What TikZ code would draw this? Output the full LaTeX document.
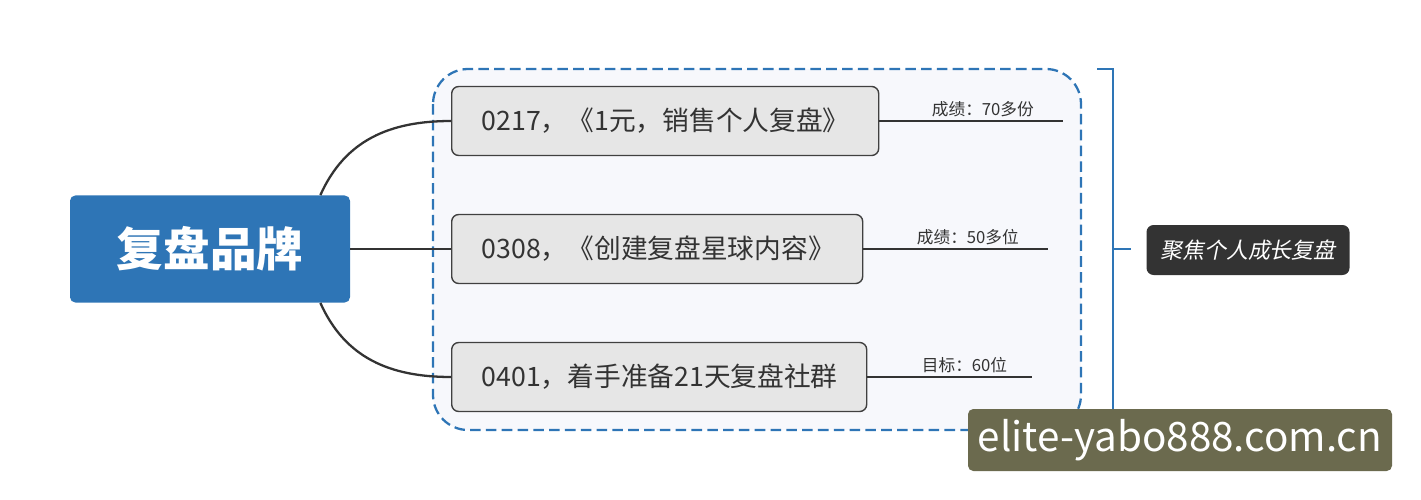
\documentclass[tikz,border=0pt]{standalone}
\usepackage{fontspec}
\setmainfont{Noto Sans CJK SC}
\newfontfamily\slantcjk[FakeSlant=0.2]{Noto Sans CJK SC}
\usetikzlibrary{positioning}
\definecolor{rootblue}{HTML}{2E75B6}
\definecolor{framefill}{HTML}{F7F8FC}
\definecolor{boxfill}{HTML}{E6E6E6}
\definecolor{markfill}{HTML}{6B6A4E}
\tikzset{
  item/.style={draw=black!75,fill=boxfill,rounded corners=4pt,line width=0.8pt,
    minimum height=69*0.02cm,anchor=west,align=left,inner xsep=30*0.02cm,
    font=\fontsize{15.2}{17}\selectfont,text=black!80},
  note/.style={anchor=south west,inner sep=2pt,font=\fontsize{9.5}{10}\selectfont,text=black!80},
  link/.style={line width=1.3pt,black!80}
}
\begin{document}
\begin{tikzpicture}[x=0.02cm,y=-0.02cm]
                \useasboundingbox (0,0) rectangle (1421,500);
                % frame
                \draw[rootblue,dash pattern=on 6pt off 3pt,line width=1.3pt,fill=framefill,rounded corners=20pt]
                    (433,69) rectangle (1081,430);

                % root
                \node[fill=rootblue,rounded corners=3pt,minimum width=280*0.02cm,minimum height=107*0.02cm,
                    text=white,font=\fontsize{26.5}{29}\bfseries\selectfont] (root) at (210,249) {复盘品牌};

                % items
                \node[item,minimum width=427*0.02cm,text width=367*0.02cm] (a) at (451,121) {0217，《1元，销售个人复盘》};
                \node[item,minimum width=411*0.02cm,text width=351*0.02cm] (b) at (451,249) {0308，《创建复盘星球内容》};
                \node[item,minimum width=415*0.02cm,text width=355*0.02cm] (c) at (451,377) {0401，着手准备21天复盘社群};

                \draw[link] ([xshift=-30*0.02cm]root.north east) .. controls (345,140) and (390,121) .. (a.west);
                \draw[link] (root.east) -- (b.west);
                \draw[link] ([xshift=-30*0.02cm]root.south east) .. controls (345,358) and (390,377) .. (c.west);

                % notes
                \coordinate (ea) at (1063,121);
                \coordinate (eb) at (1048,249);
                \coordinate (ec) at (1032,377);
                \draw[black!80,line width=0.8pt] (a.east) -- (ea);
                \draw[black!80,line width=0.8pt] (b.east) -- (eb);
                \draw[black!80,line width=0.8pt] (c.east) -- (ec);
                \node[note] (na) at (928,121) {成绩：70多份};
                \node[note] (nb) at (913,249) {成绩：50多位};
                \node[note] (nc) at (918,377) {目标：60位};

                % bracket
                \draw[rootblue,line width=1.3pt] (1097,69) -- (1113,69) -- (1113,430) -- (1097,430);
                \coordinate (mid) at (1113,249);
                \coordinate (tip) at (1131,249);
                \draw[rootblue,line width=1.3pt] (mid) -- (tip);
                \node[fill=black!80,rounded corners=4pt,minimum width=203*0.02cm,minimum height=50*0.02cm,
                    text=white,font=\fontsize{12.5}{13}\slantcjk] (sum) at (1248,250) {聚焦个人成长复盘};

                % watermark
                \node[fill=markfill,rounded corners=3pt,minimum width=424*0.02cm,minimum height=62*0.02cm,
                    text=white,font=\fontsize{23}{24}\selectfont] (mark) at (1180,440) {elite-yabo888.com.cn};
\end{tikzpicture}
\end{document}
